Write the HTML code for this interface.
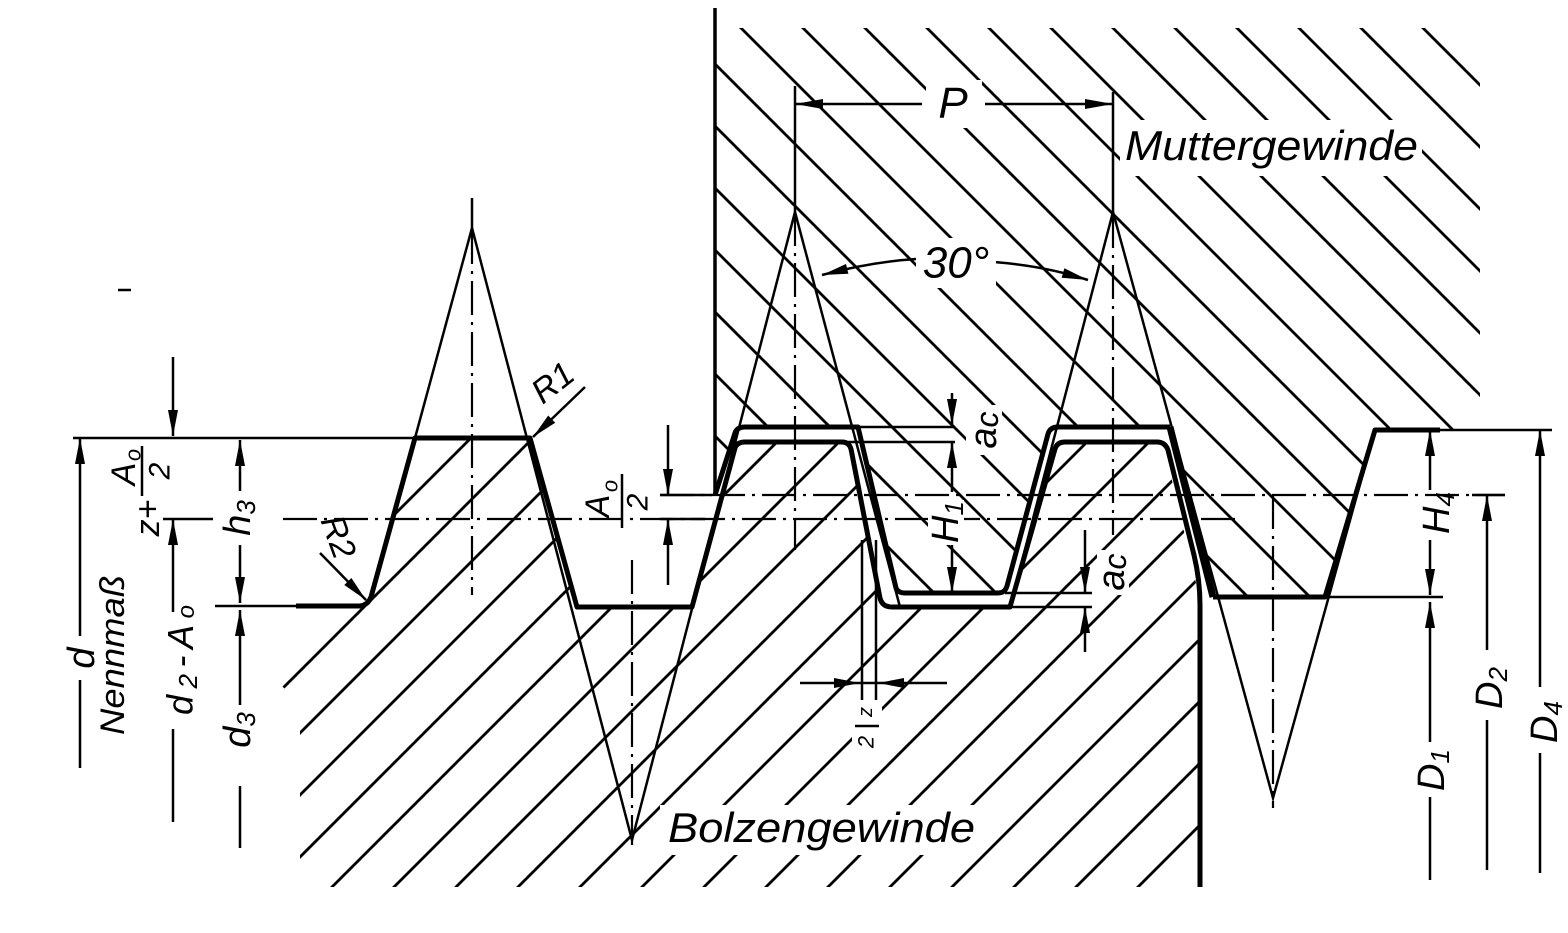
<!DOCTYPE html>
<html><head><meta charset="utf-8">
<style>
html,body{margin:0;padding:0;background:#fff;width:1568px;height:933px;overflow:hidden;}
svg{display:block;}
text{font-family:"Liberation Sans",sans-serif;font-style:italic;fill:#000;}
</style></head><body>
<svg width="1568" height="933" viewBox="0 0 1568 933" xmlns="http://www.w3.org/2000/svg" overflow="hidden">
<defs>
<clipPath id="cn"><path d="M715,28 L1480,28 L1480,430 L1375,430 L1325,597 L1220,597 L1170,427 L1050,427 L1005,593 L900,593 L858,427 L737,427 L715,495 Z"/></clipPath>
<clipPath id="cb"><path d="M282,686 L360,606 L371,598 L415,438 L530,438 L577,607 L692,607 L737,442 L848,442 L882,607 L1010,607 L1058,442 L1163,442 L1200,600 L1200,887 L300,887 L300,705 Z"/></clipPath>
</defs>
<rect width="1568" height="933" fill="#fff"/>

<!-- nut hatching -->
<g clip-path="url(#cn)" stroke="#000" stroke-width="2.8" fill="none">
<path d="M710,555L755,600 M710,493L817,600 M710,431L879,600 M710,369L941,600 M710,307L1003,600 M710,245L1065,600 M710,183L1127,600 M710,121L1189,600 M710,59L1251,600 M733,20L1313,600 M795,20L1375,600 M857,20L1437,600 M919,20L1485,586 M981,20L1485,524 M1043,20L1485,462 M1105,20L1485,400 M1167,20L1485,338 M1229,20L1485,276 M1291,20L1485,214 M1353,20L1485,152 M1415,20L1485,90"/>
</g>
<!-- bolt hatching -->
<g clip-path="url(#cb)" stroke="#000" stroke-width="2.8" fill="none">
<path d="M280,629L479,430 M280,691L541,430 M280,753L603,430 M280,815L665,430 M280,877L727,430 M329,890L789,430 M391,890L851,430 M453,890L913,430 M515,890L975,430 M577,890L1037,430 M639,890L1099,430 M701,890L1161,430 M763,890L1205,448 M825,890L1205,510 M887,890L1205,572 M949,890L1205,634 M1011,890L1205,696 M1073,890L1205,758 M1135,890L1205,820 M1197,890L1205,882"/>
</g>

<!-- dash-dot center / pitch lines -->
<g stroke="#000" stroke-width="2.2" fill="none" stroke-dasharray="34 7 3 7">
<path d="M472,230 L472,595"/>
<path d="M632,560 L632,845"/>
<path d="M795,212 L795,550"/>
<path d="M1113,214 L1113,535"/>
<path d="M1273,495 L1273,808"/>
<path d="M283,519 L1235,519"/>
<path d="M660,495 L1505,495"/>
</g>

<!-- thin lines -->
<g stroke="#000" stroke-width="2.5" fill="none">
<path d="M472,198 L472,230"/>
<path d="M795,86 L795,212"/>
<path d="M1113,92 L1113,214"/>
<path d="M472,228 L632,840 L795,212"/>
<path d="M472,228 L415,438"/>
<path d="M795,212 L900,607"/>
<path d="M1010,607 L1113,212 L1273,798 L1375,430"/>
<path d="M73,438 L415,438"/>
<path d="M215,606 L296,606"/>
<path d="M1440,430 L1552,430"/>
<path d="M1325,597 L1443,597"/>
<path d="M858,427 L955,427"/>
<path d="M848,442 L955,442"/>
<path d="M1005,593 L1092,593"/>
<path d="M1010,607 L1092,607"/>
<path d="M118,290 L131,290"/>
<!-- dimension lines -->
<path d="M80,438 L80,636 M80,680 L80,768"/>
<path d="M173,357 L173,436 M163,519 L213,519 M173,519 L173,612 M173,729 L173,822"/>
<path d="M240,440 L240,491 M240,545 L240,603 M240,610 L240,705 M240,786 L240,848"/>
<path d="M668,425 L668,495 M668,519 L668,585 M660,495 L712,495 M660,519 L705,519"/>
<path d="M952,393 L952,425 M952,442 L952,492 M952,545 L952,593"/>
<path d="M1085,530 L1085,593 M1085,607 L1085,652"/>
<path d="M1430,430 L1430,490 M1430,540 L1430,595 M1430,602 L1430,742 M1430,797 L1430,880"/>
<path d="M1472,495 L1505,495 M1487,495 L1487,650 M1487,720 L1487,870"/>
<path d="M1540,430 L1540,687 M1540,753 L1540,873"/>
<path d="M795,104 L922,104 M985,104 L1113,104"/>
<path d="M800,683 L947,683 M862,540 L862,700 M876,540 L876,700 M855,726 L879,726"/>
<path d="M822,275 Q870,262 916,259 M994,262 Q1045,266 1088,280"/>
<path d="M585,387 L533,437"/>
<path d="M320,553 L366,600"/>
<path d="M142,446 L142,496 M622,474 L622,528"/>
</g>

<!-- thick profile lines -->
<g stroke="#000" stroke-width="5" fill="none" stroke-linejoin="round">
<path d="M296,606 L360,606 Q368,605 371,597 L415,438 L530,438 L577,607 L692,607 L735,448 Q737,442 745,442 L842,442 Q849,442 851,449 L880,598 Q882,607 892,607 L1010,607 L1055,449 Q1057,442 1065,442 L1157,442 Q1165,442 1168,450 L1194,555 Q1200,580 1200,605 L1200,887"/>
<path d="M715,495 L735,433 Q737,427 745,427 L858,427 L896,588 Q898,593 905,593 L998,593 Q1005,593 1007,586 L1048,434 Q1050,427 1058,427 L1170,427"/>
<path d="M1213,597 L1325,597 L1375,430 L1440,430"/>
</g>
<path d="M1170,427 L1213,597" stroke="#000" stroke-width="7" fill="none"/>
<path d="M715,8 L715,495" stroke="#000" stroke-width="3.5" fill="none"/>

<!-- arrowheads -->
<g fill="#000">
<polygon points="80,438 75,464 85,464"/>
<polygon points="240,440 235,466 245,466"/>
<polygon points="240,610 235,636 245,636"/>
<polygon points="173,519 168,545 178,545"/>
<polygon points="668,519 663,545 673,545"/>
<polygon points="952,442 947,468 957,468"/>
<polygon points="1085,607 1080,633 1090,633"/>
<polygon points="1430,430 1425,456 1435,456"/>
<polygon points="1430,602 1425,628 1435,628"/>
<polygon points="1487,495 1482,521 1492,521"/>
<polygon points="1540,430 1535,456 1545,456"/>
<polygon points="173,436 168,410 178,410"/>
<polygon points="240,603 235,577 245,577"/>
<polygon points="668,495 663,469 673,469"/>
<polygon points="952,425 947,399 957,399"/>
<polygon points="952,593 947,567 957,567"/>
<polygon points="1085,593 1080,567 1090,567"/>
<polygon points="1430,595 1425,569 1435,569"/>
<polygon points="795,104 823,99 823,109"/>
<polygon points="1113,104 1085,99 1085,109"/>
<polygon points="860,683 834,678 834,688"/>
<polygon points="878,683 904,678 904,688"/>
<polygon points="822,275 848.4,273.7 846,264"/>
<polygon points="1088,280 1061.6,277.8 1064.4,268.2"/>
<polygon points="533,437 555.2,422.7 548.2,415.5"/>
<polygon points="366,600 351.4,578 344.3,585"/>
</g>

<!-- white backgrounds for labels in hatched areas -->
<g fill="#fff">
<rect x="1120" y="120" width="302" height="56"/>
<rect x="926" y="80" width="56" height="48"/>
<rect x="916" y="238" width="80" height="50"/>
<rect x="660" y="805" width="322" height="50"/>
<rect x="928" y="500" width="36" height="45"/>
<rect x="966" y="405" width="36" height="50"/>
<rect x="1097" y="550" width="32" height="45"/>
<rect x="852" y="700" width="30" height="58"/>
</g>
<path d="M855,726 L879,726" stroke="#000" stroke-width="2.5"/>

<!-- horizontal labels -->
<text x="1125" y="160" font-size="42" textLength="293" lengthAdjust="spacingAndGlyphs">Muttergewinde</text>
<text x="668" y="842" font-size="42" textLength="307" lengthAdjust="spacingAndGlyphs">Bolzengewinde</text>
<text x="953" y="103" font-size="44" text-anchor="middle" dominant-baseline="central">P</text>
<text x="956" y="263" font-size="44" text-anchor="middle" dominant-baseline="central">30°</text>
<text transform="translate(553,383) rotate(-38)" font-size="34" text-anchor="middle" dominant-baseline="central">R1</text>
<text transform="translate(338,537) rotate(70)" font-size="34" text-anchor="middle" dominant-baseline="central">R2</text>

<!-- rotated labels -->
<g font-size="38" text-anchor="middle" dominant-baseline="central">
<text transform="translate(82,658) rotate(-90)">d</text>
<text transform="translate(113,655) rotate(-90)" font-size="34" textLength="160" lengthAdjust="spacingAndGlyphs">Nennmaß</text>
<text transform="translate(148,518) rotate(-90)" font-size="34">z+</text>
<text transform="translate(124,474) rotate(-90)" font-size="34">A</text>
<text transform="translate(133,455) rotate(-90)" font-size="22">o</text>
<text transform="translate(160,471) rotate(-90)" font-size="30">2</text>
<text transform="translate(180,660) rotate(-90)" font-size="36" textLength="110">d<tspan font-size="26" dy="8">2</tspan><tspan dy="-8">-A</tspan><tspan font-size="24" dy="6">o</tspan></text>
<text transform="translate(238,518) rotate(-90)">h<tspan font-size="26" dy="8">3</tspan></text>
<text transform="translate(238,730) rotate(-90)">d<tspan font-size="26" dy="8">3</tspan></text>
<text transform="translate(598,506) rotate(-90)" font-size="34">A</text>
<text transform="translate(610,486) rotate(-90)" font-size="22">o</text>
<text transform="translate(638,502) rotate(-90)" font-size="30">2</text>
<text transform="translate(946,522) rotate(-90)">H<tspan font-size="26" dy="8">1</tspan></text>
<text transform="translate(984,430) rotate(-90)">a<tspan font-size="32" dy="3">c</tspan></text>
<text transform="translate(1112,572) rotate(-90)">a<tspan font-size="32" dy="3">c</tspan></text>
<text transform="translate(866,712) rotate(-90)" font-size="20">z</text>
<text transform="translate(866,742) rotate(-90)" font-size="22">2</text>
<text transform="translate(1437,513) rotate(-90)">H<tspan font-size="26" dy="8">4</tspan></text>
<text transform="translate(1432,770) rotate(-90)">D<tspan font-size="26" dy="8">1</tspan></text>
<text transform="translate(1490,688) rotate(-90)">D<tspan font-size="26" dy="8">2</tspan></text>
<text transform="translate(1545,722) rotate(-90)">D<tspan font-size="26" dy="8">4</tspan></text>
</g>
</svg>
</body></html>
